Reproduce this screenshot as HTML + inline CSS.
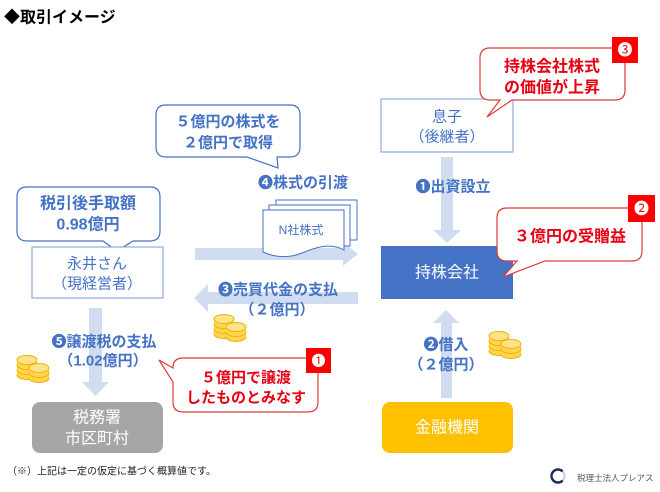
<!DOCTYPE html>
<html><head><meta charset="utf-8"><style>
html,body{margin:0;padding:0;background:#fff;}
svg{display:block;}
text{font-family:"Liberation Sans","Noto Sans CJK JP",sans-serif;dominant-baseline:central;}
.b{font-weight:bold;}
.blue{fill:#4472C4;}
.red{fill:#E60012;}
</style></head><body>
<svg width="660" height="492" viewBox="0 0 660 492" xmlns="http://www.w3.org/2000/svg">
<defs>
<g id="coins">
  <!-- back stack -->
  <ellipse cx="11" cy="20" rx="10" ry="4.5" fill="#FFD54F" stroke="#F2B200" stroke-width="1"/>
  <rect x="1" y="15" width="20" height="5" fill="#FFD54F"/>
  <ellipse cx="11" cy="15" rx="10" ry="4.5" fill="#FFD54F" stroke="#F2B200" stroke-width="1"/>
  <rect x="1" y="10" width="20" height="5" fill="#FFD54F"/>
  <ellipse cx="11" cy="10" rx="10" ry="4.5" fill="#FFD54F" stroke="#F2B200" stroke-width="1"/>
  <rect x="1" y="5" width="20" height="5" fill="#FFD54F"/>
  <ellipse cx="11" cy="5" rx="10" ry="4.5" fill="#FFE38A" stroke="#F2B200" stroke-width="1"/>
  <!-- front stack -->
  <ellipse cx="23" cy="23" rx="10" ry="4.5" fill="#FFD54F" stroke="#F2B200" stroke-width="1"/>
  <rect x="13" y="18" width="20" height="5" fill="#FFD54F"/>
  <ellipse cx="23" cy="18" rx="10" ry="4.5" fill="#FFD54F" stroke="#F2B200" stroke-width="1"/>
  <rect x="13" y="13" width="20" height="5" fill="#FFD54F"/>
  <ellipse cx="23" cy="13" rx="10" ry="4.5" fill="#FFE38A" stroke="#F2B200" stroke-width="1"/>
</g>
</defs>

<!-- Title -->
<text x="4" y="18" font-size="16" class="b" fill="#000">◆取引イメージ</text>

<!-- Arrows (light blue) -->
<g fill="#D0DCEF">
  <!-- 1 出資設立 down -->
  <rect x="441" y="157" width="12" height="75"/>
  <polygon points="433,230 461,230 447,243"/>
  <!-- 2 借入 up -->
  <rect x="441" y="322" width="11" height="76"/>
  <polygon points="433,323 459,323 446,310"/>
  <!-- 5 down -->
  <rect x="89" y="308" width="13" height="76"/>
  <polygon points="82,382 109,382 95.5,396"/>
  <!-- 4 right -->
  <rect x="195" y="248" width="150" height="12"/>
  <polygon points="343,242 343,266 358,254"/>
  <!-- 3 left -->
  <rect x="206" y="292" width="152" height="12"/>
  <polygon points="208,284 208,312 194,298"/>
</g>

<!-- Blue bubble: 5億円の株式を -->
<path d="M166,105 H290 Q300,105 300,115 V147 Q300,157 290,157 H277 L278,168 L247,157 H166 Q156,157 156,147 V115 Q156,105 166,105 Z" fill="#fff" stroke="#4472C4" stroke-width="1.2"/>
<text x="228" y="122" font-size="15" class="b blue" text-anchor="middle">５億円の株式を</text>
<text x="228" y="143" font-size="15" class="b blue" text-anchor="middle">２億円で取得</text>

<!-- Blue bubble: 税引後手取額 -->
<path d="M27,187 H150 Q160,187 160,197 V231 Q160,241 150,241 H133 L117,251 L103,241 H27 Q17,241 17,231 V197 Q17,187 27,187 Z" fill="#fff" stroke="#4472C4" stroke-width="1.2"/>
<text x="88" y="204" font-size="16" class="b blue" text-anchor="middle">税引後手取額</text>
<text x="88" y="225" font-size="16" class="b blue" text-anchor="middle">0.98億円</text>

<!-- 永井さん box -->
<rect x="32" y="247" width="131" height="51" fill="#fff" stroke="#8FAADC" stroke-width="1.2"/>
<text x="97" y="264" font-size="15" class="blue" text-anchor="middle">永井さん</text>
<text x="97" y="284" font-size="15" class="blue" text-anchor="middle">（現経営者）</text>

<!-- 息子 box -->
<rect x="381" y="99" width="132" height="53" fill="#fff" stroke="#8FAADC" stroke-width="1.2"/>
<text x="447" y="117" font-size="15" class="blue" text-anchor="middle">息子</text>
<text x="447" y="137" font-size="15" class="blue" text-anchor="middle">（後継者）</text>

<!-- Red bubble 3 -->
<path d="M490,48 H615 Q625,48 625,58 V90 Q625,100 615,100 H512 L487,117 L500,100 H490 Q480,100 480,90 V58 Q480,48 490,48 Z" fill="#fff" stroke="#E03A3A" stroke-width="1.2"/>
<text x="552" y="67" font-size="16" class="b red" text-anchor="middle">持株会社株式</text>
<text x="552" y="88" font-size="16" class="b red" text-anchor="middle">の価値が上昇</text>
<rect x="612" y="37" width="26" height="26" fill="#FF0000"/>
<text x="625" y="50.5" font-size="15" fill="#fff" text-anchor="middle">❸</text>

<!-- 株式の引渡 label -->
<text x="303" y="183" font-size="15" class="b blue" text-anchor="middle">❹株式の引渡</text>

<!-- 出資設立 label -->
<text x="453" y="187" font-size="15" class="b blue" text-anchor="middle">❶出資設立</text>

<!-- Document stack -->
<rect x="276" y="200" width="81" height="40" fill="#fff" stroke="#4472C4" stroke-width="1"/>
<rect x="269" y="205" width="81" height="41" fill="#fff" stroke="#4472C4" stroke-width="1"/>
<path d="M263,210 H344 V250 C330,242 314,248 302,253 C290,258 276,258 263,252 Z" fill="#fff" stroke="#4472C4" stroke-width="1"/>
<text x="301" y="230" font-size="12" class="blue" text-anchor="middle">N社株式</text>

<!-- 持株会社 -->
<rect x="381" y="246" width="132" height="53" fill="#4472C4"/>
<text x="447" y="273" font-size="16" fill="#fff" text-anchor="middle">持株会社</text>

<!-- Red bubble 2 -->
<path d="M507,208 H632 Q642,208 642,218 V251 Q642,261 632,261 H545 L503,277 L517,261 H507 Q497,261 497,251 V218 Q497,208 507,208 Z" fill="#fff" stroke="#E03A3A" stroke-width="1.2"/>
<text x="570" y="237" font-size="16" class="b red" text-anchor="middle">３億円の受贈益</text>
<rect x="628" y="195" width="27" height="27" fill="#FF0000"/>
<text x="641.5" y="209" font-size="15" fill="#fff" text-anchor="middle">❷</text>

<!-- 売買代金 label -->
<text x="278" y="290" font-size="15" class="b blue" text-anchor="middle">❸売買代金の支払</text>
<text x="277" y="310" font-size="15" class="b blue" text-anchor="middle">（２億円）</text>
<use href="#coins" x="213" y="314"/>

<!-- 借入 label -->
<text x="446" y="345" font-size="15" class="b blue" text-anchor="middle">❷借入</text>
<text x="446" y="365" font-size="15" class="b blue" text-anchor="middle">（２億円）</text>
<use href="#coins" x="488" y="331"/>

<!-- 譲渡税 label -->
<text x="104" y="342" font-size="15" class="b blue" text-anchor="middle">❺譲渡税の支払</text>
<text x="103" y="361" font-size="15" class="b blue" text-anchor="middle">（1.02億円）</text>
<use href="#coins" x="16" y="355"/>

<!-- Red bubble 1 -->
<path d="M183,358 H308 Q318,358 318,368 V402 Q318,412 308,412 H183 Q173,412 173,402 V382 L159,360 L173,368 Q173,358 183,358 Z" fill="#fff" stroke="#E03A3A" stroke-width="1.2"/>
<text x="246" y="378" font-size="15" class="b red" text-anchor="middle">５億円で譲渡</text>
<text x="246" y="398" font-size="15" class="b red" text-anchor="middle">したものとみなす</text>
<rect x="306" y="348" width="25" height="25" fill="#FF0000"/>
<text x="318.5" y="361" font-size="14" fill="#fff" text-anchor="middle">❶</text>

<!-- 税務署 -->
<rect x="32" y="402" width="131" height="51" rx="8" ry="8" fill="#A6A6A6"/>
<text x="97" y="418" font-size="16" fill="#fff" text-anchor="middle">税務署</text>
<text x="97" y="439" font-size="16" fill="#fff" text-anchor="middle">市区町村</text>

<!-- 金融機関 -->
<rect x="382" y="402" width="131" height="51" rx="8" ry="8" fill="#FFC000"/>
<text x="447" y="428" font-size="16" fill="#fff" text-anchor="middle">金融機関</text>

<!-- Footnote -->
<text x="7" y="472" font-size="10" fill="#222">（※）上記は一定の仮定に基づく概算値です。</text>

<!-- Logo -->
<circle cx="558" cy="476" r="6.5" fill="none" stroke="#C9CEDD" stroke-width="2"/>
<path d="M562.6,471.4 A6.5,6.5 0 1 0 562.6,480.6" fill="none" stroke="#1F2A55" stroke-width="2.4"/>
<text x="577" y="478" font-size="8.5" fill="#555">税理士法人プレアス</text>
</svg>
</body></html>
